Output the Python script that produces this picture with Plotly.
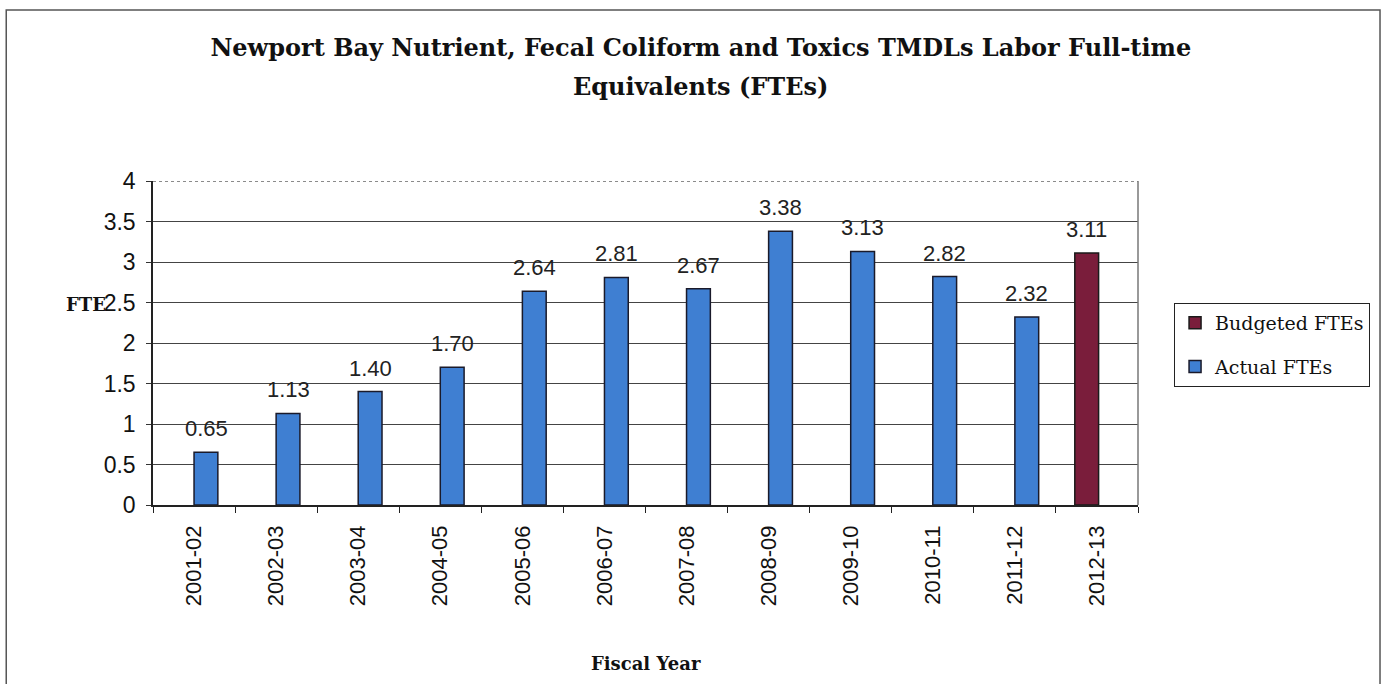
import plotly.graph_objects as go

categories = ["2001-02", "2002-03", "2003-04", "2004-05", "2005-06", "2006-07",
              "2007-08", "2008-09", "2009-10", "2010-11", "2011-12", "2012-13"]
actual_years = categories[:11]
actual_fte = [0.65, 1.13, 1.40, 1.70, 2.64, 2.81, 2.67, 3.38, 3.13, 2.82, 2.32]
budget_years = ["2012-13"]
budget_fte = [3.11]
y_ticks = [0, 0.5, 1, 1.5, 2, 2.5, 3, 3.5, 4]
y_tick_text = ["0", "0.5", "1", "1.5", "2", "2.5", "3", "3.5", "4"]

SERIF = "DejaVu Serif, Liberation Serif, serif"
SANS = "Liberation Sans, Arial, sans-serif"

BAR_W = 0.29
fig = go.Figure()
fig.add_trace(go.Bar(
    name="Budgeted FTEs", x=budget_years, y=budget_fte,
    width=BAR_W, offset=-0.27,
    marker=dict(color="#7a1d3b", line=dict(color="#1a1a1a", width=1.5)),
    legendgroup="b",
))
fig.add_trace(go.Bar(
    name="Actual FTEs", x=actual_years, y=actual_fte,
    width=BAR_W, offset=0.0,
    marker=dict(color="#3f7fd2", line=dict(color="#1a1a2a", width=1.5)),
    legendgroup="a",
))

# data labels above each bar (centred on the bar)
for xs, ys, shift in [(budget_years, budget_fte, -10), (actual_years, actual_fte, 12)]:
    for xv, yv in zip(xs, ys):
        fig.add_annotation(x=xv, y=yv, text=f"{yv:.2f}", showarrow=False,
                           xshift=shift, yshift=9, yanchor="bottom",
                           font=dict(family=SANS, size=22, color="#222"))

# axis titles
fig.add_annotation(text="<b>FTE</b>", xref="paper", yref="y", x=-0.046, y=2.47,
                   xanchor="right", yanchor="middle", showarrow=False,
                   font=dict(family=SERIF, size=18, color="#111"))
fig.add_annotation(text="<b>Fiscal Year</b>", xref="paper", yref="paper", x=0.5, y=-0.488,
                   xanchor="center", yanchor="middle", showarrow=False,
                   font=dict(family=SERIF, size=18, color="#111"))
# second title line
fig.add_annotation(text="<b>Equivalents (FTEs)</b>", xref="paper", yref="paper",
                   x=0.5563, y=1.2932, xanchor="center", yanchor="middle", showarrow=False,
                   font=dict(family=SERIF, size=24, color="#111"))

# top dotted border, right border of plot area, outer chart frame
fig.add_shape(type="line", xref="paper", yref="y", x0=0, x1=1, y0=4, y1=4,
              line=dict(color="#666", width=1.5, dash="dot"))
fig.add_shape(type="line", xref="paper", yref="paper", x0=1, x1=1, y0=0, y1=1,
              line=dict(color="#777", width=1.5))
fig.add_shape(type="rect", xref="paper", yref="paper", x0=-0.149, x1=1.2457, y0=-0.7, y1=1.528,
              line=dict(color="#555", width=1.5), fillcolor="rgba(0,0,0,0)", layer="below")

fig.update_layout(
    width=1385, height=684,
    margin=dict(l=153, r=247, t=181, b=179),
    paper_bgcolor="white", plot_bgcolor="white",
    barmode="overlay",
    title=dict(text="<b>Newport Bay Nutrient, Fecal Coliform and Toxics TMDLs Labor Full-time</b>",
               x=0.506, xanchor="center", y=1 - 48 / 684, yanchor="middle", yref="container",
               font=dict(family=SERIF, size=24, color="#111")),
    showlegend=True,
    legend=dict(x=1.0366, y=0.6235, xanchor="left", yanchor="top",
                bordercolor="#222", borderwidth=1, bgcolor="white",
                font=dict(family=SERIF, size=19, color="#111"),
                traceorder="grouped", tracegroupgap=16),
    xaxis=dict(type="category", categoryorder="array", categoryarray=categories,
               range=[-0.5, 11.5],
               tickangle=-90, tickfont=dict(family=SANS, size=22, color="#111"),
               showline=True, linecolor="#222", linewidth=1.5,
               ticks="outside", tickson="boundaries", ticklen=6, tickcolor="#222",
               ticklabelstandoff=10, showgrid=False),
    yaxis=dict(range=[0, 4], tickvals=y_ticks, ticktext=y_tick_text,
               tickfont=dict(family=SANS, size=23, color="#111"),
               showline=True, linecolor="#222", linewidth=1.5,
               ticks="outside", ticklen=5, tickcolor="#333", ticklabelstandoff=6,
               showgrid=True, gridcolor="#444", gridwidth=1.2, zeroline=False),
)

fig.write_html("out.html", config={"displayModeBar": False},
               post_script="document.body.style.margin='0';")
